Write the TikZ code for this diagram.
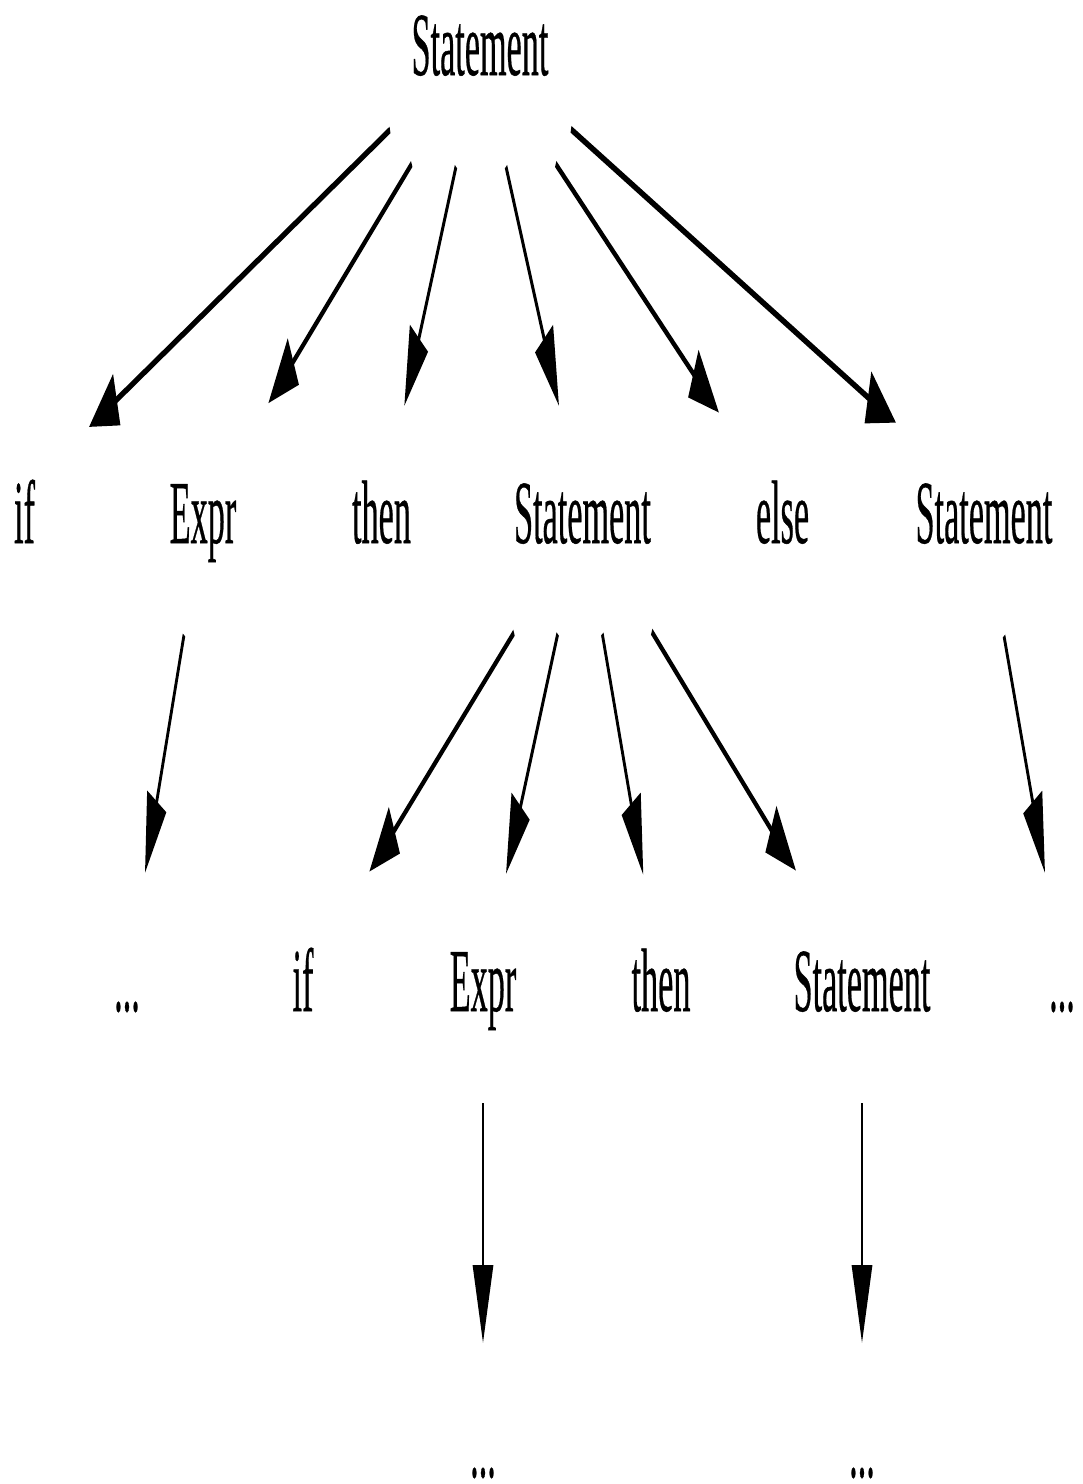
\documentclass[tikz,border=0pt]{standalone}
\usepackage{fontspec}
\setmainfont{Liberation Serif}
\newfontfamily\lblfont[FakeBold=0.6]{Liberation Serif}
\usetikzlibrary{arrows.meta}
\begin{document}
\begin{tikzpicture}
\useasboundingbox (0,0) rectangle (1083pt,-1484pt);
\begin{scope}[transform canvas={xscale=0.38}, x=2.631579pt, y=-1pt,
  lbl/.style={inner sep=0pt, anchor=base, font=\lblfont\fontsize{90}{90}\selectfont},
  edge/.style={line width=7pt, -{Triangle[length=78pt,width=53pt]}}]
% row 0
\node[lbl] (s0) at (480,75) {Statement};
% row 1
\node[lbl] (if1)   at (24.5,543)  {if};
\node[lbl] (expr1) at (203,543)   {Expr};
\node[lbl] (then1) at (381.5,543) {then};
\node[lbl] (st1)   at (582.5,543) {Statement};
\node[lbl] (else1) at (782.5,543) {else};
\node[lbl] (st2)   at (984,543)   {Statement};
% row 2
\node[lbl] (dotsa) at (127,1011)  {...};
\node[lbl] (if2)   at (303,1011)  {if};
\node[lbl] (expr2) at (483,1011)  {Expr};
\node[lbl] (then2) at (661,1011)  {then};
\node[lbl] (st3)   at (862,1011)  {Statement};
\node[lbl] (dotsb) at (1062,1011) {...};
% row 3
\node[lbl] (dotsc) at (483,1477)  {...};
\node[lbl] (dotsd) at (862,1477)  {...};
% edges
\draw[edge] ([shift={(-90,55)}]s0.base)    -- ([shift={(64.5,-116)}]if1.base);
\draw[edge] ([shift={(-68.3,89)}]s0.base)  -- ([shift={(65.3,-139.7)}]expr1.base);
\draw[edge] ([shift={(-24,91.7)}]s0.base)  -- ([shift={(22.8,-137)}]then1.base);
\draw[edge] ([shift={(26,91.7)}]s0.base)   -- ([shift={(-23.5,-137)}]st1.base);
\draw[edge] ([shift={(75.7,89)}]s0.base)   -- ([shift={(-63.5,-130.3)}]else1.base);
\draw[edge] ([shift={(91,54.3)}]s0.base)   -- ([shift={(-88,-120.3)}]st2.base);
\draw[edge] ([shift={(-19,92)}]expr1.base) -- ([shift={(18,-138)}]dotsa.base);
\draw[edge] ([shift={(-68.5,89.7)}]st1.base) -- ([shift={(66.3,-139.3)}]if2.base);
\draw[edge] ([shift={(-24.8,91)}]st1.base) -- ([shift={(23,-137)}]expr2.base);
\draw[edge] ([shift={(19.8,91)}]st1.base)  -- ([shift={(-17.7,-136)}]then2.base);
\draw[edge] ([shift={(69.2,88.7)}]st1.base) -- ([shift={(-66,-140.3)}]st3.base);
\draw[edge] ([shift={(20,93)}]st2.base)    -- ([shift={(-17,-138)}]dotsb.base);
\draw[edge] ([shift={(0,92)}]expr2.base)   -- ([shift={(0,-134)}]dotsc.base);
\draw[edge] ([shift={(0,92)}]st3.base)     -- ([shift={(0,-134)}]dotsd.base);
\end{scope}
\end{tikzpicture}
\end{document}
